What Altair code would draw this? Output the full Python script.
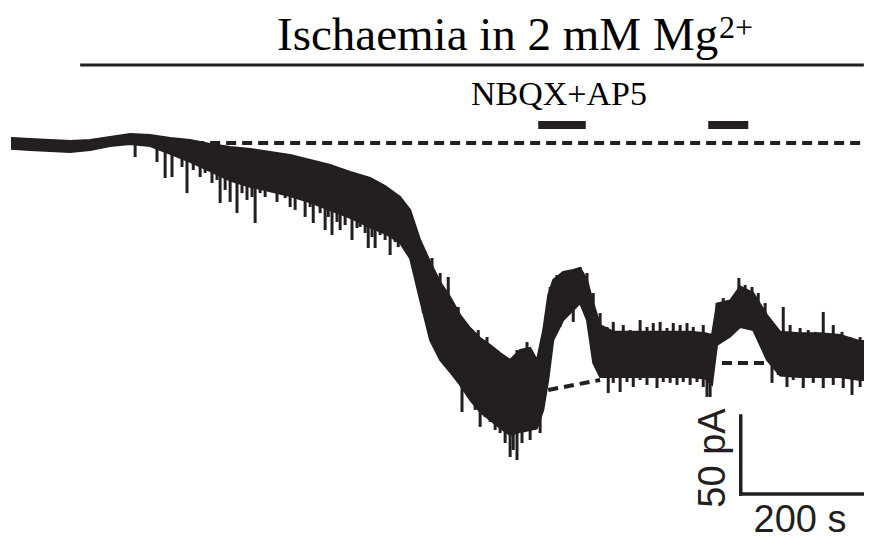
import altair as alt
import pandas as pd
import numpy as np

# ---- recorded holding current (envelope of the dense noisy trace) ----
t_env = [0, 29, 61, 93, 125, 157, 189, 221, 253, 285,
         317, 349, 381, 413, 445, 477, 509, 541, 573, 597,
         621, 637, 653, 669, 685, 701, 717, 733, 749, 765,
         781, 797, 813, 829, 840, 850, 858, 866, 882, 898,
         909, 920, 930, 941, 962, 989, 1021, 1053, 1085, 1109,
         1120, 1128, 1149, 1165, 1186, 1208, 1229, 1261, 1293, 1325,
         1357, 1365]
top_env = [3.2, 2.6, 1.9, 1.3, 1.9, 3.8, 5.8, 5.1, 3.2, 1.9,
           -0.6, -2.6, -3.8, -5.8, -7.7, -10.9, -14.1, -18.6, -22.4, -27.6,
           -34.6, -42.9, -62.2, -76.3, -89.1, -98.7, -110.3, -118.6, -125.0, -129.5,
           -134.6, -139.1, -132.7, -131.4, -139.1, -119.9, -97.4, -87.8, -82.7, -81.4,
           -80.1, -87.8, -102.6, -116.7, -121.0, -121.0, -121.0, -121.0, -121.0, -122.0,
           -123.0, -103.0, -101.0, -92.0, -96.2, -110.3, -121.0, -122.0, -122.0, -123.0,
           -127.0, -127.0]
bot_env = [-3.8, -4.5, -5.1, -5.8, -4.5, -1.9, -0.6, -1.9, -7.0, -12.0,
           -18.0, -24.0, -28.0, -31.0, -34.0, -38.0, -43.0, -48.0, -54.0, -58.0,
           -64.0, -74.0, -100.6, -126.3, -139.1, -146.8, -155.1, -164.7, -172.4, -177.6,
           -182.7, -187.2, -185.2, -184.0, -182.7, -171.1, -151.9, -126.3, -113.5, -107.0,
           -102.6, -113.5, -141.0, -150.0, -150.0, -150.0, -150.0, -150.0, -150.0, -151.0,
           -155.0, -129.5, -124.0, -118.0, -119.9, -139.1, -149.0, -150.0, -150.0, -150.0,
           -152.0, -152.0]

# ---- individual noise excursions (time s, tip current pA) ----
spike_t = [
    # slow run-down phase
    197, 232, 245, 256, 272, 280, 290, 301, 309, 320,
    328, 333, 341, 349, 360, 368, 376, 384, 389, 397,
    405, 413, 424, 432, 437, 445, 453, 458, 461, 469,
    477, 482, 493, 501, 506, 512, 520, 525, 533, 544,
    552, 557, 565, 570, 576, 581, 589, 597, 605, 613,
    618, 626, 632, 640,
    # anoxic depolarisation (lower edge)
    658, 674, 690, 706, 720, 730, 741, 749, 757, 765,
    773, 781, 789, 797, 802, 808, 816, 829, 837, 845,
    # anoxic depolarisation (upper edge)
    672, 685, 698, 714, 728, 736, 746, 760, 776, 789,
    808, 824, 832,
    # first NBQX+AP5 response
    861, 872, 882, 898, 909, 920, 930, 941,
    866, 877, 888, 898, 909, 920, 930,
    # plateau, upper edge
    952, 962, 978, 989, 1005, 1016, 1026, 1037, 1048, 1058,
    1069, 1080, 1090, 1106,
    # plateau, lower edge
    954, 962, 973, 984, 994, 1005, 1016, 1032, 1042, 1053,
    1064, 1074, 1085, 1096, 1106, 1112, 1117,
    # second application and later plateau, upper edge
    1128, 1138, 1149, 1163, 1173, 1184, 1194, 1205, 1216, 1234,
    1245, 1261, 1274, 1285, 1298, 1314, 1328, 1341, 1357,
    # later plateau, lower edge
    1216, 1226, 1240, 1250, 1266, 1282, 1298, 1314, 1330, 1344,
    1357]
spike_pA = [
    -9.0, -12.2, -22.4, -21.8, -15.4, -32.1, -17.3, -21.8, -19.2, -25.6,
    -23.7, -38.5, -30.1, -37.8, -44.9, -32.1, -36.5, -34.6, -51.3, -32.1,
    -34.6, -30.1, -37.8, -33.3, -35.3, -41.0, -42.9, -34.6, -36.5, -47.4,
    -41.0, -51.3, -44.9, -55.8, -47.4, -59.0, -50.6, -55.8, -52.6, -62.2,
    -54.5, -53.8, -57.7, -67.3, -60.3, -67.3, -59.0, -62.2, -71.8, -63.5,
    -66.7, -64.1, -70.5, -73.1,
    -108.9, -126.3, -134.6, -145.5, -172.4, -162.8, -171.1, -182.0, -175.6, -178.8,
    -184.0, -185.9, -192.3, -201.3, -196.8, -203.2, -192.3, -190.4, -184.0, -185.9,
    -73.7, -83.3, -85.9, -105.1, -116.7, -119.9, -119.9, -124.4, -132.7, -137.8,
    -132.7, -127.6, -134.6,
    -92.3, -84.6, -82.7, -83.3, -79.5, -83.3, -96.2, -109.0,
    -124.4, -117.9, -107.0, -114.7, -102.6, -111.5, -132.7,
    -117.9, -114.7, -116.7, -119.9, -113.5, -117.9, -115.4, -114.7, -118.6, -115.4,
    -116.7, -115.4, -117.9, -116.7,
    -160.3, -153.8, -159.6, -153.2, -156.4, -151.9, -155.1, -157.1, -153.2, -153.8,
    -155.1, -153.2, -155.1, -153.2, -156.4, -162.8, -162.8,
    -102.6, -99.4, -101.9, -86.5, -91.0, -92.3, -96.2, -102.6, -116.7, -105.1,
    -116.7, -118.6, -119.9, -121.1, -108.3, -116.7, -121.1, -124.4, -124.4,
    -153.8, -148.7, -156.4, -151.9, -157.1, -153.8, -157.1, -155.1, -157.1, -161.5,
    -156.4]

# ---- baselines (dashed) ----
base_t0 = [189, 858, 1136]
base_t1 = [1363, 941, 1210]
base_y0 = [0.0, -158.3, -141.0]
base_y1 = [0.0, -151.9, -141.0]

# ---- protocol bars ----
isch_t = [109, 1363]
isch_level = 50.0
drug_t0 = [842, 1114]
drug_t1 = [918, 1178]
drug_level = 11.5

# ---- scale bar ----
sb_t0 = 1166
sb_dt = 200
sb_i0 = -225
sb_di = 50

INK = "#231f20"
xs = alt.Scale(domain=[-6.4, 1363.2], nice=False, zero=False)
ys = alt.Scale(domain=[-255.13, 86.54], nice=False, zero=False)

env = pd.DataFrame({"t": t_env, "top": top_env, "bot": bot_env})
mid_env = (np.array(top_env) + np.array(bot_env)) / 2
spikes = pd.DataFrame({"t": spike_t, "tip": spike_pA,
                       "mid": np.interp(spike_t, t_env, mid_env)})
bases = pd.DataFrame({"t0": base_t0, "t1": base_t1, "y0": base_y0, "y1": base_y1})
drugs = pd.DataFrame({"t0": drug_t0, "t1": drug_t1, "y": [drug_level] * 2})
isch = pd.DataFrame({"t0": [isch_t[0]], "t1": [isch_t[1]], "y": [isch_level]})
sb = pd.DataFrame({"t0": [sb_t0, sb_t0], "t1": [sb_t0, sb_t0 + sb_dt],
                   "y0": [sb_i0 + sb_di, sb_i0], "y1": [sb_i0, sb_i0]})

X = lambda f: alt.X(f, type="quantitative", scale=xs, axis=None)
Y = lambda f: alt.Y(f, type="quantitative", scale=ys, axis=None)

band = alt.Chart(env).mark_area(color=INK, stroke=INK, strokeWidth=2).encode(
    x=X("t"), y=Y("top"), y2="bot")
spk = alt.Chart(spikes).mark_rule(color=INK, strokeWidth=3).encode(
    x=X("t"), y=Y("tip"), y2="mid")
dash = alt.Chart(bases).mark_rule(color=INK, strokeWidth=4, strokeDash=[10, 6]).encode(
    x=X("t0"), x2="t1", y=Y("y0"), y2="y1")
isl = alt.Chart(isch).mark_rule(color=INK, strokeWidth=3).encode(
    x=X("t0"), x2="t1", y=Y("y"))
drg = alt.Chart(drugs).mark_rule(color=INK, strokeWidth=8, strokeCap="butt").encode(
    x=X("t0"), x2="t1", y=Y("y"))
sbar = alt.Chart(sb).mark_rule(color=INK, strokeWidth=3.5, strokeCap="square").encode(
    x=X("t0"), x2="t1", y=Y("y0"), y2="y1")

one = pd.DataFrame({"a": [0]})
title = alt.Chart(one).mark_text(font="Liberation Serif", fontSize=47, align="left",
                                 baseline="alphabetic", color="black").encode(
    x=alt.value(269), y=alt.value(42), text=alt.value("Ischaemia in 2 mM Mg"))
sup = alt.Chart(one).mark_text(font="Liberation Serif", fontSize=32, align="left",
                               baseline="alphabetic", color="black").encode(
    x=alt.value(711), y=alt.value(30), text=alt.value("2+"))
drug_lbl = alt.Chart(one).mark_text(font="Liberation Serif", fontSize=34, align="left",
                                    baseline="alphabetic", color="black").encode(
    x=alt.value(463), y=alt.value(97), text=alt.value("NBQX+AP5"))
pa_lbl = alt.Chart(one).mark_text(font="Liberation Sans", fontSize=38, align="center",
                                  baseline="middle", angle=270, color=INK).encode(
    x=alt.value(706), y=alt.value(450), text=alt.value("50 pA"))
s_lbl = alt.Chart(one).mark_text(font="Liberation Sans", fontSize=38, align="center",
                                 baseline="alphabetic", color=INK).encode(
    x=alt.value(792), y=alt.value(524), text=alt.value("200 s"))

chart = alt.layer(dash, band, spk, isl, drg, sbar, title, sup, drug_lbl, pa_lbl, s_lbl).properties(
    width=856, height=533, padding=0, autosize=alt.AutoSizeParams(type="none")
).configure_view(stroke=None)

chart.save("out.html", embed_options={"renderer": "svg", "actions": False})
